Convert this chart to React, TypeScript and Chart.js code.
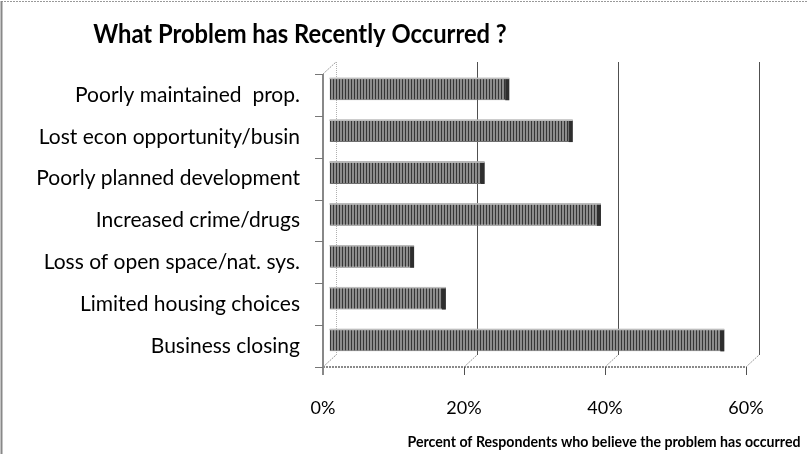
import React, { useEffect, useRef } from "react";
import { Chart, registerables } from "chart.js";

Chart.register(...registerables);

const categories = [
  "Poorly maintained  prop.",
  "Lost econ opportunity/busin",
  "Poorly planned development",
  "Increased crime/drugs",
  "Loss of open space/nat. sys.",
  "Limited housing choices",
  "Business closing",
];
const values = [25.5, 34.5, 22, 38.5, 12, 16.5, 56];
const xTicks = [0, 20, 40, 60];
const titleText = "What Problem has Recently Occurred ?";
const xTitleText = "Percent of Respondents who believe the problem has occurred";

const FONT = "Lato, 'Open Sans', sans-serif";
const DX = 6.5;
const DY = 6;

function makePattern(): CanvasPattern | string {
  const c = document.createElement("canvas");
  c.width = 3;
  c.height = 3;
  const g = c.getContext("2d");
  if (!g) return "#888";
  g.fillStyle = "#8c8c8c";
  g.fillRect(0, 0, 3, 3);
  g.fillStyle = "#353535";
  g.fillRect(0, 0, 1, 3);
  const p = g.createPattern(c, "repeat");
  return p || "#888";
}

function drawScaledText(ctx: any, text: string, cx: number, y: number, font: string, sx: number) {
  ctx.save();
  ctx.font = font;
  ctx.translate(cx, y);
  ctx.scale(sx, 1);
  ctx.textAlign = "center";
  ctx.textBaseline = "alphabetic";
  ctx.fillStyle = "#000";
  ctx.fillText(text, 0, 0);
  ctx.restore();
}

const pseudo3d = {
  id: "pseudo3d",
  beforeDraw(chart: any) {
    const ctx = chart.ctx;
    ctx.save();
    ctx.fillStyle = "#fff";
    ctx.fillRect(0, 0, chart.width, chart.height);
    // outer frame
    ctx.strokeStyle = "#999";
    ctx.lineWidth = 1;
    ctx.setLineDash([2, 1]);
    ctx.beginPath();
    ctx.moveTo(1, 1.5);
    ctx.lineTo(chart.width, 1.5);
    ctx.stroke();
    ctx.setLineDash([]);
    ctx.strokeStyle = "#888";
    ctx.lineWidth = 2;
    ctx.beginPath();
    ctx.moveTo(1.5, 1);
    ctx.lineTo(1.5, chart.height);
    ctx.stroke();
    ctx.restore();
    drawScaledText(ctx, titleText, 300, 43, `bold 27px ${FONT}`, 0.88);
    drawScaledText(ctx, xTitleText, 604, 447, `bold 16px ${FONT}`, 0.885);
  },
  beforeDatasetsDraw(chart: any) {
    const ctx = chart.ctx;
    const xs = chart.scales.x;
    const { top, bottom } = chart.chartArea;
    const n = categories.length;
    ctx.save();
    // back grid lines
    xTicks.forEach((v) => {
      const x = Math.round(xs.getPixelForValue(v) + DX) + 0.5;
      ctx.beginPath();
      if (v === 0) {
        ctx.strokeStyle = "#b0b0b0";
        ctx.setLineDash([1, 1]);
      } else {
        ctx.strokeStyle = "#505050";
        ctx.setLineDash([]);
      }
      ctx.lineWidth = 1;
      ctx.moveTo(x, top - DY);
      ctx.lineTo(x, bottom - DY);
      ctx.stroke();
    });
    // floor diagonals
    ctx.strokeStyle = "#9a9a9a";
    ctx.setLineDash([2, 1]);
    xTicks.forEach((v) => {
      const px = xs.getPixelForValue(v);
      ctx.beginPath();
      ctx.moveTo(px - DX, bottom + DY);
      ctx.lineTo(px + DX, bottom - DY);
      ctx.stroke();
    });
    const x0 = xs.getPixelForValue(0);
    ctx.beginPath();
    ctx.moveTo(x0 - DX, top + DY);
    ctx.lineTo(x0 + DX, top - DY);
    ctx.stroke();
    // front floor line
    ctx.strokeStyle = "#8a8a8a";
    ctx.lineWidth = 2;
    ctx.setLineDash([2, 1]);
    ctx.beginPath();
    ctx.moveTo(x0 - DX, bottom + DY);
    ctx.lineTo(xs.getPixelForValue(xTicks[xTicks.length - 1]) - DX, bottom + DY);
    ctx.stroke();
    ctx.setLineDash([]);
    // front ticks down
    ctx.strokeStyle = "#505050";
    ctx.lineWidth = 1;
    xTicks.forEach((v) => {
      const px = Math.round(xs.getPixelForValue(v) - DX) + 0.5;
      ctx.beginPath();
      ctx.moveTo(px, bottom + DY);
      ctx.lineTo(px, bottom + DY + 8);
      ctx.stroke();
    });
    // left front wall line
    ctx.strokeStyle = "#888";
    ctx.lineWidth = 2;
    ctx.beginPath();
    ctx.moveTo(x0 - DX, top + DY);
    ctx.lineTo(x0 - DX, bottom + DY + 8);
    ctx.stroke();
    // y ticks
    ctx.strokeStyle = "#777";
    ctx.lineWidth = 1;
    const step = (bottom - top) / n;
    for (let k = 0; k <= n; k++) {
      const y = Math.round(top + k * step + DY) + 0.5;
      ctx.beginPath();
      ctx.moveTo(x0 - DX - 8, y);
      ctx.lineTo(x0 - DX, y);
      ctx.stroke();
    }
    ctx.restore();
  },
  afterDatasetsDraw(chart: any) {
    const ctx = chart.ctx;
    const meta = chart.getDatasetMeta(0);
    ctx.save();
    meta.data.forEach((el: any) => {
      const h = el.height;
      ctx.fillStyle = "#2e2e2e";
      ctx.fillRect(el.x - 4, el.y - h / 2 + 1, 4, h - 1);
      ctx.fillStyle = "#bdbdbd";
      ctx.fillRect(el.base, el.y - h / 2, el.x - el.base, 1.5);
    });
    ctx.restore();
  },
};

export default function App() {
  const ref = useRef<HTMLCanvasElement | null>(null);
  useEffect(() => {
    document.body.style.margin = "0";
    const canvas = ref.current;
    if (!canvas) return;
    const pattern = makePattern();
    const chart = new Chart(canvas, {
      type: "bar",
      data: {
        labels: categories,
        datasets: [
          {
            data: values,
            backgroundColor: pattern as any,
            borderColor: "#6f6f6f",
            borderWidth: 1,
            barPercentage: 0.54,
            categoryPercentage: 1,
          },
        ],
      },
      options: {
        indexAxis: "y",
        responsive: false,
        animation: false,
        layout: { padding: { top: 68, right: 54.5, left: 0, bottom: 0 } },
        plugins: {
          legend: { display: false },
          tooltip: { enabled: false },
          title: { display: false },
        },
        scales: {
          x: {
            min: 0,
            max: 60,
            grid: { display: false, drawTicks: false },
            border: { display: false },
            afterBuildTicks: (s: any) => {
              s.ticks = xTicks.map((v) => ({ value: v }));
            },
            afterFit: (s: any) => {
              s.height = 93;
            },
            ticks: {
              padding: 36,
              labelOffset: -DX,
              color: "#000",
              font: { family: FONT, size: 18 },
              callback: (v: any) => `${v}%`,
            },
          },
          y: {
            grid: { display: false, drawTicks: false },
            border: { display: false },
            afterFit: (s: any) => {
              s.width = 329.5;
            },
            ticks: {
              padding: 29.5,
              labelOffset: DY,
              color: "#000",
              font: { family: FONT, size: 21 },
            },
          },
        },
      },
      plugins: [pseudo3d],
    });
    return () => chart.destroy();
  }, []);
  return (
    <div style={{ width: 807, height: 454, position: "relative" }}>
      <canvas ref={ref} width={807} height={454} style={{ display: "block" }} />
    </div>
  );
}
